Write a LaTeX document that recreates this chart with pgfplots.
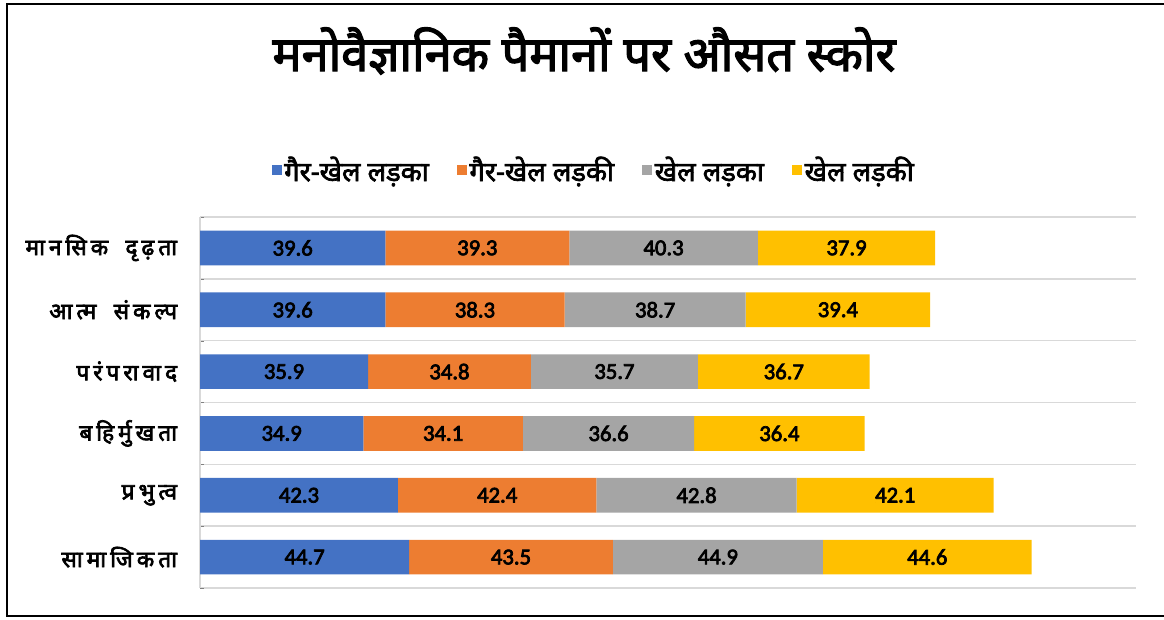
\documentclass[border=0pt]{standalone}
\usepackage{pgfplots}
\usepackage{pgfplotstable}
\pgfplotsset{compat=1.18}
\usepackage{fontspec}
\setmainfont{Carlito}
\newfontfamily\numb[FakeBold=3.2]{Carlito}
\newfontfamily\devab[Script=Devanagari,FakeBold=2.5]{Noto Sans}
\newfontfamily\devac[Script=Devanagari,FakeBold=3]{Noto Sans}
\newcommand\g{\hspace{3pt}}
\newcommand\w{\hspace{13pt}}
\definecolor{cblue}{HTML}{4472C4}
\definecolor{corange}{HTML}{ED7D31}
\definecolor{cgray}{HTML}{A5A5A5}
\definecolor{cyellow}{HTML}{FFC000}
\definecolor{cgrid}{HTML}{D9D9D9}
\pgfplotstableread{
y a b c d
0 39.6 39.3 40.3 37.9
1 39.6 38.3 38.7 39.4
2 35.9 34.8 35.7 36.7
3 34.9 34.1 36.6 36.4
4 42.3 42.4 42.8 42.1
5 44.7 43.5 44.9 44.6
}\data
\pgfplotstablecreatecol[create col/expr={\thisrow{a}/2}]{ma}\data
\pgfplotstablecreatecol[create col/expr={\thisrow{a}+\thisrow{b}/2}]{mb}\data
\pgfplotstablecreatecol[create col/expr={\thisrow{a}+\thisrow{b}+\thisrow{c}/2}]{mc}\data
\pgfplotstablecreatecol[create col/expr={\thisrow{a}+\thisrow{b}+\thisrow{c}+\thisrow{d}/2}]{md}\data
\pgfplotsset{common/.style={
  at={(150pt,23.25pt)}, anchor=south west,
  scale only axis, width=702pt, height=278.25pt,
  xmin=0, xmax=200, ymin=-0.5, ymax=5.5, y dir=reverse}}
\begin{document}
\begin{tikzpicture}
\path[use as bounding box] (0,0) rectangle (873pt,464.25pt);
\draw[line width=1.5pt] (880pt,461.25pt) -- (5.25pt,461.25pt) -- (5.25pt,2.25pt) -- (880pt,2.25pt);
\node[font=\devab\fontsize{36.5}{41}\selectfont] at (438pt,426pt) {मनोवैज्ञानिक पैमानों पर औसत स्कोर};
\begin{axis}[common,
  xbar stacked, bar width=26pt,
  xtick=\empty,
  ytick={0,1,2,3,4,5},
  yticklabels={मा\g{}न\g{}सि\g{}क\w{}दृ\g{}ढ़\g{}ता, आ\g{}त्म\w{}सं\g{}क\g{}ल्प, प\g{}रं\g{}प\g{}रा\g{}वा\g{}द, ब\g{}हि\g{}र्मु\g{}ख\g{}ता, प्र\g{}भु\g{}त्व, सा\g{}मा\g{}जि\g{}क\g{}ता},
  yticklabel style={font=\devac\fontsize{17}{19}\selectfont, inner sep=0pt, xshift=-17pt},
  major tick length=0pt,
  minor ytick={-0.5,0.5,...,5.5},
  yminorgrids=true,
  minor grid style={draw=cgrid, line width=1.1pt},
  axis lines*=left,
  x axis line style={draw=none},
  y axis line style={draw=cgrid, line width=1.1pt},
  legend columns=4,
  legend style={draw=none, at={(0.421,1.127)}, anchor=center, font=\devab\fontsize{20.5}{23}\selectfont,
    /tikz/every even column/.append style={column sep=19pt}, inner sep=0pt},
  legend image code/.code={\fill[#1] (0pt,-4pt) rectangle (7.5pt,4pt);},
  legend cell align=left,
]
\addplot[fill=cblue, draw=none] table[x=a, y=y] {\data};
\addplot[fill=corange, draw=none] table[x=b, y=y] {\data};
\addplot[fill=cgray, draw=none] table[x=c, y=y] {\data};
\addplot[fill=cyellow, draw=none] table[x=d, y=y] {\data};
\legend{गैर-खेल लड़का, गैर-खेल लड़की, खेल लड़का, खेल लड़की}
\end{axis}
\begin{axis}[common, hide axis,
  /pgf/number format/assume math mode=true,
  nodes near coords={\pgfmathprintnumber[fixed,fixed zerofill,precision=1]{\pgfplotspointmeta}},
  nodes near coords align={center},
  every node near coord/.append style={anchor=center, font=\numb\fontsize{17}{19}\selectfont, text=black},
  point meta=explicit]
\addplot[draw=none, mark=none] table[x=ma, y=y, meta=a] {\data};
\addplot[draw=none, mark=none] table[x=mb, y=y, meta=b] {\data};
\addplot[draw=none, mark=none] table[x=mc, y=y, meta=c] {\data};
\addplot[draw=none, mark=none] table[x=md, y=y, meta=d] {\data};
\end{axis}
\end{tikzpicture}
\end{document}
